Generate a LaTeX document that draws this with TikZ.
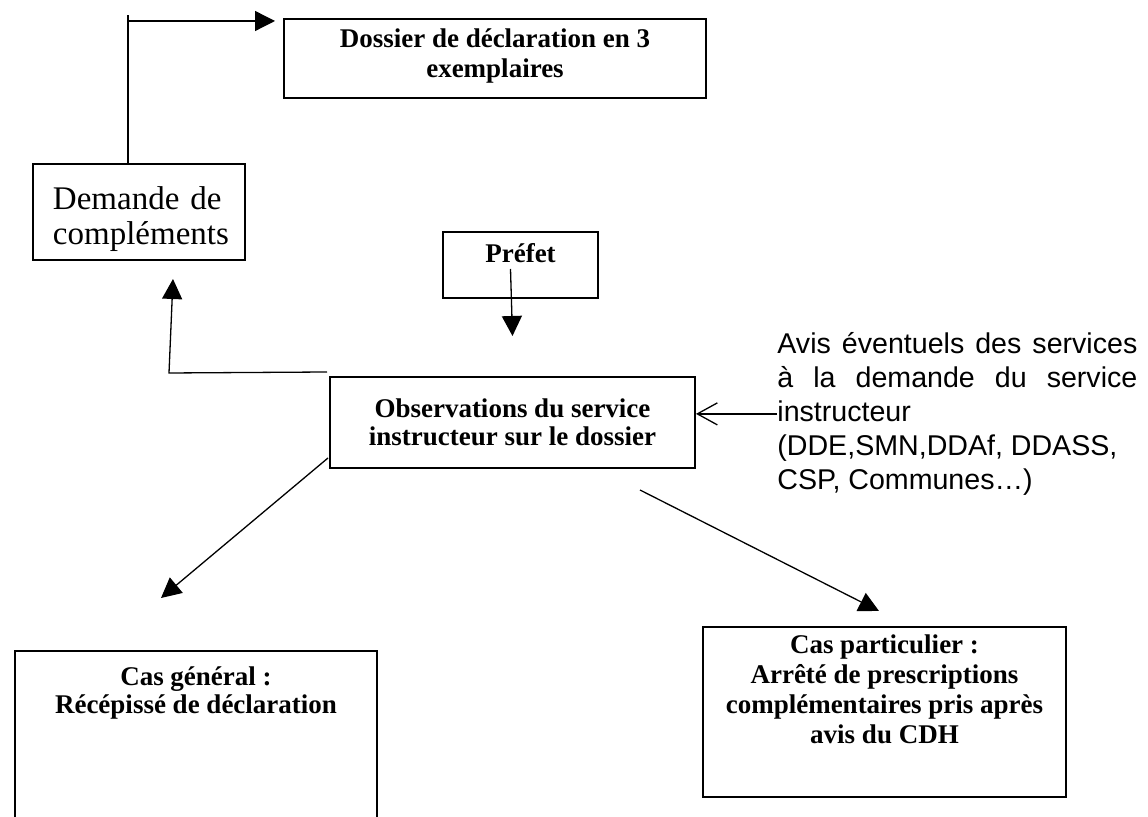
\documentclass[tikz,border=0pt]{standalone}
\usepackage{fontspec}
\setmainfont{Liberation Serif}
\newfontfamily\avisfont{Liberation Sans}
\usepackage{tikz}
\usetikzlibrary{calc}
\usetikzlibrary{arrows.meta}
\tikzset{
  boite/.style={draw, line width=1pt, inner sep=0pt},
  titre/.style={font=\fontsize{13.5}{15}\selectfont\bfseries, align=center},
  fleche/.style={-{Triangle[length=10pt,width=10pt]}, line width=0.65pt},
  avisfleche/.style={-{Straight Barb[length=10pt,width=11pt]}, line width=0.65pt},
}

\begin{document}
\begin{tikzpicture}[x=0.5pt,y=-0.5pt]
\clip (0,0) rectangle (1148,817);
% boites
\node[boite, minimum width=211pt, minimum height=39.5pt,
  label={[titre, anchor=north, yshift=-2pt]north:{Dossier de déclaration en 3\\exemplaires}}] (dossier) at (495,58.5) {};
\node[boite, minimum width=106pt, minimum height=48pt,
  label={[anchor=north, yshift=-8.5pt, text width=86pt, align=left,
  font=\fontsize{16.5}{17.5}\selectfont]north:{Demande de\\compléments}}] (demande) at (139,212) {};
\node[boite, minimum width=77.5pt, minimum height=33pt,
  label={[titre, anchor=north, yshift=-2.5pt]north:Préfet}] (prefet) at (520.5,265) {};
\node[boite, titre, font=\fontsize{13.5}{14}\selectfont\bfseries, minimum width=182.5pt, minimum height=45.5pt] (obs) at (512.5,422.5) {Observations du service\\instructeur sur le dossier};
\node[boite, minimum width=181pt, minimum height=100pt,
  label={[titre, font=\fontsize{13.5}{14}\selectfont\bfseries, anchor=north, yshift=-5pt]north:{Cas général :\\Récépissé de déclaration}}] (casgen) at (196,751) {};
\node[boite, minimum width=181.5pt, minimum height=85pt,
  label={[titre, anchor=north, yshift=-1pt]north:{Cas particulier :\\Arrêté de prescriptions\\complémentaires pris après\\avis du CDH}}] (caspart) at (884.5,712) {};
\node[anchor=north west, inner sep=0pt, text width=180pt, align=justify,
  font=\avisfont\fontsize{14.3}{17}\selectfont] (avis) at (777,332)
  {Avis éventuels des services\linebreak à la demande du service\linebreak instructeur\\(DDE,SMN,DDAf, DDASS,\\CSP, Communes…)};
%
% fleches
\coordinate (coude) at (128,21);
\coordinate (retour) at (169,373);
\draw[line width=0.65pt] (coude |- demande.north) -- (128,15);
\draw[fleche] (coude) -- ($(dossier.north west |- coude)+(-8,0)$);
\draw[fleche] ($(prefet.center)+(-10,4)$) -- ($(obs.north -| prefet.center)+(-8,-40)$);
\draw[fleche] ($(obs.north west)+(-2,-4)$) -- (retour) -- ($(demande.south)+(34,18)$);
\draw[avisfleche] (avis.west) -- (avis.west -| obs.east);
\draw[fleche] ($(obs.south west)+(-1,-11)$) -- ($(casgen.north west)+(147,-52)$);
\draw[fleche] ($(obs.south)+(127.5,21)$) -- ($(caspart.north)+(-5.5,-15)$);
\end{tikzpicture}
\end{document}
